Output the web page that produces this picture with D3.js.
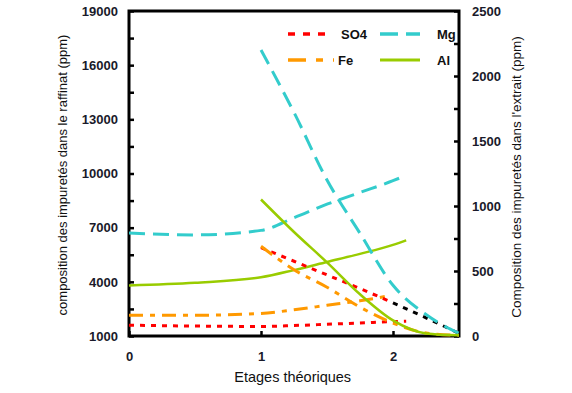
<!DOCTYPE html>
<html>
<head>
<meta charset="utf-8">
<script src="https://cdn.jsdelivr.net/npm/d3@7"></script>
<style>
  body { margin: 0; background: #fff; }
  text { font-family: "Liberation Sans", Arial, sans-serif; }
</style>
</head>
<body>
<div id="chart"></div>
<script>
// tick labels
var xTicks = [0, 1, 2];
var leftTicks = [1000, 4000, 7000, 10000, 13000, 16000, 19000];
var rightTicks = [0, 500, 1000, 1500, 2000, 2500];

// raffinat (left axis)
var xRaff = [0, 0.5, 1, 1.25, 1.5, 1.75, 2, 2.1];
var so4Raff = [1600, 1550, 1530, 1580, 1650, 1720, 1800, 1820];
var mgRaff = [6700, 6600, 6850, 7550, 8300, 8950, 9600, 9900];
var alRaff = [3800, 3950, 4250, 4650, 5100, 5550, 6050, 6300];
var xFeRaff = [0, 0.5, 1, 1.25, 1.5, 1.75, 1.95];
var feRaff = [2150, 2150, 2250, 2450, 2700, 2950, 3200];

// extrait (right axis)
var xExt = [1, 1.25, 1.5, 1.75, 2, 2.25, 2.5];
var so4Ext = [680, 575, 470, 365, 255, 140, 20];
var mgExt = [2200, 1720, 1200, 790, 390, 165, 20];
var feExt = [690, 510, 375, 222, 100, 23, 5];
var alExt = [1050, 800, 566, 321, 120, 20, 5];

var margin = { top: 11, right: 113, bottom: 57, left: 129 },
    width = 572 - margin.left - margin.right,
    height = 393 - margin.top - margin.bottom;

var svg = d3.select("#chart")
    .append("svg")
    .attr("width", 572)
    .attr("height", 393)
    .append("g")
    .attr("transform", "translate(" + margin.left + "," + margin.top + ")");

var x = d3.scaleLinear().domain([0, 2.5]).range([0, width]);
var yL = d3.scaleLinear().domain([1000, 19000]).range([height, 0]);
var yR = d3.scaleLinear().domain([0, 2500]).range([height, 0]);

// axes (ticks inward, labels only on the major ones)
var minorL = d3.range(1000, 19001, 1500);
var gL = svg.append("g")
    .call(d3.axisLeft(yL).tickValues(minorL).tickSize(-5).tickPadding(11)
        .tickFormat(function (d) { return leftTicks.indexOf(d) >= 0 ? d : ""; }));

var minorR = d3.range(0, 2501, 250);
var gR = svg.append("g")
    .attr("transform", "translate(" + width + ",0)")
    .call(d3.axisRight(yR).tickValues(minorR).tickSize(-5).tickPadding(13)
        .tickFormat(function (d) { return rightTicks.indexOf(d) >= 0 ? d : ""; }));

var gX = svg.append("g")
    .attr("transform", "translate(0," + height + ")")
    .call(d3.axisBottom(x).tickValues(xTicks).tickSize(-5).tickPadding(16)
        .tickFormat(d3.format("d")));

[gL, gR, gX].forEach(function (g) {
    g.select(".domain").remove();
    g.selectAll(".tick line").attr("stroke", "#000").attr("stroke-width", 2.5);
    g.selectAll(".tick text")
        .style("font-size", "13px")
        .style("font-weight", "bold")
        .attr("fill", "#1a1a2a");
});

// frame
svg.append("rect")
    .attr("width", width)
    .attr("height", height)
    .attr("fill", "none")
    .attr("stroke", "#000")
    .attr("stroke-width", 3);

// titles
svg.append("text")
    .attr("transform", "translate(-62,164) rotate(-90)")
    .attr("text-anchor", "middle")
    .style("font-size", "13px")
    .attr("fill", "#111")
    .text("composition des impuretés dans le raffinat (ppm)");

svg.append("text")
    .attr("transform", "translate(" + (width + 62) + ",166) rotate(-90)")
    .attr("text-anchor", "middle")
    .style("font-size", "13.5px")
    .attr("fill", "#111")
    .text("Composition des impuretés dans l'extrait (ppm)");

svg.append("text")
    .attr("x", x(1.24))
    .attr("y", height + 46)
    .attr("text-anchor", "middle")
    .style("font-size", "14.5px")
    .attr("fill", "#111")
    .text("Etages théoriques");

// styles
var styles = {
    SO4: { color: "#ff0000", dash: "5,6", w: 3 },
    Mg: { color: "#33cccc", dash: "16,8", w: 3 },
    Fe: { color: "#ff9900", dash: "14,7,5,7", w: 3 },
    Al: { color: "#99cc00", dash: null, w: 2.5 }
};

function pairs(xs, ys) {
    return xs.map(function (d, i) { return [d, ys[i]]; });
}

function drawLine(data, yScale, st, color) {
    svg.append("path")
        .datum(data)
        .attr("fill", "none")
        .attr("stroke", color || st.color)
        .attr("stroke-width", st.w)
        .attr("stroke-dasharray", st.dash)
        .attr("d", d3.line()
            .curve(d3.curveMonotoneX)
            .x(function (d) { return x(d[0]); })
            .y(function (d) { return yScale(d[1]); }));
}

drawLine(pairs(xRaff, so4Raff), yL, styles.SO4);
drawLine(pairs(xRaff, mgRaff), yL, styles.Mg);
drawLine(pairs(xFeRaff, feRaff), yL, styles.Fe);
drawLine(pairs(xRaff, alRaff), yL, styles.Al);

// SO4 extrait turns black past stage 2
var so4E = pairs(xExt, so4Ext);
drawLine(so4E.filter(function (d) { return d[0] <= 2; }), yR, styles.SO4);
drawLine(so4E.filter(function (d) { return d[0] >= 2; }), yR, styles.SO4, "#000");
drawLine(pairs(xExt, mgExt), yR, styles.Mg);
drawLine(pairs(xExt, feExt), yR, styles.Fe);
drawLine(pairs(xExt, alExt), yR, styles.Al);

// legend
var legend = [
    { name: "SO4", lx: 159, ly: 23, tx: 212 },
    { name: "Mg", lx: 251, ly: 23, tx: 308 },
    { name: "Fe", lx: 159, ly: 49, tx: 209 },
    { name: "Al", lx: 251, ly: 49, tx: 308 }
];
legend.forEach(function (d) {
    var st = styles[d.name];
    svg.append("line")
        .attr("x1", d.lx).attr("x2", d.lx + (d.name == "Fe" ? 46 : 40))
        .attr("y1", d.ly).attr("y2", d.ly)
        .attr("stroke", st.color)
        .attr("stroke-width", st.w + 0.5)
        .attr("stroke-dasharray", d.name == "Fe" ? "18,10,7,10" : (d.name == "Mg" ? "18,8" : (d.name == "SO4" ? "7,8" : null)));
    svg.append("text")
        .attr("x", d.tx)
        .attr("y", d.ly + 4.5)
        .style("font-size", "13px")
        .style("font-weight", "bold")
        .attr("fill", "#111")
        .text(d.name);
});
</script>
</body>
</html>
